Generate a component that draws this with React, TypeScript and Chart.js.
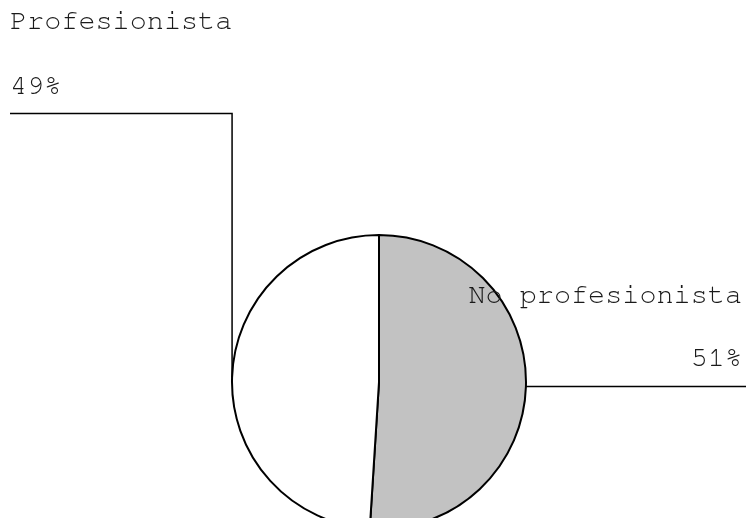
import React, { useEffect, useRef } from "react";
import { Chart, registerables } from "chart.js";

Chart.register(...registerables);

const categories = ["No profesionista", "Profesionista"];
const values = [51, 49];
const valueLabels = ["51%", "49%"];
const colors = ["#c2c2c2", "#ffffff"];

const FONT = "28.5px 'Nimbus Mono PS', 'Nimbus Mono L', 'FreeMono', 'Courier New', 'Liberation Mono', monospace";

const labelPlugin = {
  id: "leaderLabels",
  afterDraw(chart: any) {
    const ctx = chart.ctx;
    const meta = chart.getDatasetMeta(0);
    const W = chart.width;
    ctx.save();
    ctx.strokeStyle = "#000";
    ctx.lineWidth = 1.5;
    ctx.fillStyle = "#1a1a1a";
    ctx.font = FONT;
    ctx.textBaseline = "alphabetic";
    meta.data.forEach((arc: any, i: number) => {
      const p = arc.getProps(["x", "y", "startAngle", "endAngle", "outerRadius"], true);
      const mid = (p.startAngle + p.endAngle) / 2;
      const ex = p.x + Math.cos(mid) * p.outerRadius;
      const ey = p.y + Math.sin(mid) * p.outerRadius;
      if (ex >= p.x) {
        ctx.beginPath();
        ctx.moveTo(ex, ey);
        ctx.lineTo(W, ey);
        ctx.stroke();
        ctx.textAlign = "right";
        ctx.fillText(categories[i], W - 4, 303);
        ctx.fillText(valueLabels[i], W - 4, 366);
      } else {
        ctx.beginPath();
        ctx.moveTo(ex, ey);
        ctx.lineTo(ex, 113.5);
        ctx.lineTo(10, 113.5);
        ctx.stroke();
        ctx.textAlign = "left";
        ctx.fillText(categories[i], 10, 29);
        ctx.fillText(valueLabels[i], 10, 94);
      }
    });
    ctx.restore();
  },
};

export default function App() {
  const ref = useRef<HTMLCanvasElement>(null);
  useEffect(() => {
    if (!ref.current) return;
    const chart = new Chart(ref.current, {
      type: "pie",
      data: {
        labels: categories,
        datasets: [
          {
            data: values,
            backgroundColor: colors,
            borderColor: "#000",
            borderWidth: 2,
          },
        ],
      },
      options: {
        animation: false,
        responsive: false,
        radius: 147,
        layout: { padding: { left: 12, right: 0, top: 246, bottom: 0 } },
        plugins: {
          legend: { display: false },
          tooltip: { enabled: false },
        },
      },
      plugins: [labelPlugin],
    });
    return () => chart.destroy();
  }, []);
  return (
    <div style={{ position: "fixed", left: 0, top: 0, width: 746, height: 518, background: "#fff" }}>
      <canvas ref={ref} width={746} height={518} style={{ width: 746, height: 518 }} />
    </div>
  );
}
